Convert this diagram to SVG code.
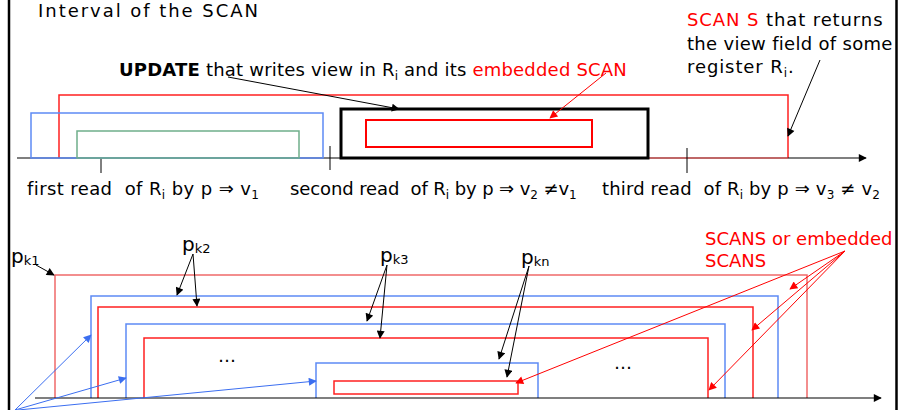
<svg xmlns="http://www.w3.org/2000/svg" width="899" height="410" viewBox="0 0 899 410">
<defs>
<style>
.t{font-family:"DejaVu Sans","Liberation Sans",sans-serif;font-size:18px;fill:#000;white-space:pre}
.r{fill:#ff0000}
.p{font-family:"DejaVu Sans","Liberation Sans",sans-serif;font-size:20px;fill:#000}
.ps{font-size:13px}
.red{stroke:#ff2020;stroke-width:1.5;fill:none}
.lred{stroke:#f06a6a;stroke-width:1.5;fill:none}
.blue{stroke:#5d8af5;stroke-width:1.5;fill:none}
.green{stroke:#6fae8a;stroke-width:1.5;fill:none}
.blk{stroke:#000;stroke-width:1;fill:none}
</style>
<marker id="ab" viewBox="0 0 10 10" refX="9" refY="5" markerWidth="10" markerHeight="8" markerUnits="userSpaceOnUse" orient="auto"><path d="M0,0L10,5L0,10z" fill="#000"/></marker>
<marker id="ar" viewBox="0 0 10 10" refX="9" refY="5" markerWidth="10" markerHeight="8" markerUnits="userSpaceOnUse" orient="auto"><path d="M0,0L10,5L0,10z" fill="#ff0000"/></marker>
<marker id="abl" viewBox="0 0 10 10" refX="9" refY="5" markerWidth="10" markerHeight="8" markerUnits="userSpaceOnUse" orient="auto"><path d="M0,0L10,5L0,10z" fill="#3b6ef0"/></marker>
</defs>
<rect width="899" height="410" fill="#fff"/>
<g id="frame">
<line x1="9" y1="0" x2="9" y2="410" stroke="#000" stroke-width="2.5"/>
<line x1="896.5" y1="0" x2="896.5" y2="410" stroke="#000" stroke-width="2.5"/>
</g>
<g id="title"><text class="t" x="38" y="17" font-size="16" textLength="220">Interval of the SCAN</text></g>

<g id="top-scan-S"><path class="red" d="M59,158V95H788V158"/></g>
<g id="top-axis"><line x1="17" y1="158" x2="866" y2="158" stroke="#000" stroke-width="1.2" marker-end="url(#ab)"/>
<line x1="648" y1="158" x2="788" y2="158" stroke="#ff5050" stroke-width="1.2"/>
<line x1="101" y1="158" x2="101" y2="173" class="blk"/>
<line x1="330" y1="146" x2="330" y2="170" class="blk"/>
<line x1="687" y1="148" x2="687" y2="173" class="blk"/>
</g>
<g id="blue-box"><rect class="blue" x="31" y="113" width="292" height="45"/></g>
<g id="green-box"><rect class="green" x="77" y="131" width="222" height="27"/></g>
<g id="update-box"><rect x="341" y="109" width="307" height="49" fill="none" stroke="#000" stroke-width="3"/></g>
<g id="embedded-scan"><rect x="366" y="120" width="226" height="27" fill="none" stroke="#ff0000" stroke-width="2"/></g>

<g id="top-labels">
<text class="t" x="119" y="76" letter-spacing="0.2"><tspan font-weight="bold">UPDATE</tspan> that writes view in R<tspan dy="4" font-size="12">i</tspan><tspan dy="-4"> and its </tspan><tspan class="r">embedded SCAN</tspan></text>
<text class="t" x="687" y="26" letter-spacing="0.9"><tspan class="r">SCAN S</tspan> that returns</text>
<text class="t" x="687" y="50" letter-spacing="0.3">the view field of some</text>
<text class="t" x="687" y="73" letter-spacing="0.9">register R<tspan dy="4" font-size="12">i</tspan><tspan dy="-4">.</tspan></text>
<text class="t" x="27" y="195" letter-spacing="0.4">first read  of R<tspan dy="4" font-size="12">i</tspan><tspan dy="-4"> by p ⇒ v</tspan><tspan dy="4" font-size="12">1</tspan></text>
<text class="t" x="290" y="195" letter-spacing="-0.1">second read  of R<tspan dy="4" font-size="12">i</tspan><tspan dy="-4"> by p ⇒ v</tspan><tspan dy="4" font-size="12">2</tspan><tspan dy="-4"> ≠v</tspan><tspan dy="4" font-size="12">1</tspan></text>
<text class="t" x="602" y="195" letter-spacing="0.15">third read  of R<tspan dy="4" font-size="12">i</tspan><tspan dy="-4"> by p ⇒ v</tspan><tspan dy="4" font-size="12">3</tspan><tspan dy="-4"> ≠ v</tspan><tspan dy="4" font-size="12">2</tspan></text>
</g>

<g id="bottom-boxes">
<path class="lred" d="M55,398V275H807V398"/>
<path class="blue" d="M91,398V296H778V398"/>
<path class="red" d="M98,398V307H753V398"/>
<path class="blue" d="M126,398V324H725V398"/>
<path class="red" d="M144,398V338H708V398"/>
<path class="blue" d="M316,398V363H538V398"/>
<rect class="red" x="334" y="381" width="184" height="13"/>
</g>
<g id="bottom-axis"><line x1="35" y1="398" x2="881" y2="398" stroke="#000" stroke-width="1.2" marker-end="url(#ab)"/></g>

<g id="bottom-labels">
<text class="p" x="11" y="263">p<tspan class="ps" dy="2">k1</tspan></text>
<text class="p" x="182" y="251">p<tspan class="ps" dy="2">k2</tspan></text>
<text class="p" x="380" y="262">p<tspan class="ps" dy="2">k3</tspan></text>
<text class="p" x="521" y="264">p<tspan class="ps" dy="2">kn</tspan></text>
<text class="t" x="218" y="362">…</text>
<text class="t" x="614" y="369">…</text>
<text class="t r" x="705" y="245">SCANS or embedded</text>
<text class="t r" x="705" y="267">SCANS</text>
</g>

<g id="connectors">
<line x1="228" y1="77" x2="399" y2="109" class="blk" stroke-width="1.2" marker-end="url(#ab)"/>
<line x1="606" y1="73" x2="550" y2="118" stroke="#ff0000" stroke-width="1" marker-end="url(#ar)"/>
<line x1="820" y1="60" x2="788" y2="136" class="blk" marker-end="url(#ab)"/>
<line x1="36" y1="265" x2="54" y2="275" class="blk" marker-end="url(#ab)"/>
<line x1="193" y1="254" x2="177" y2="295" class="blk" marker-end="url(#ab)"/>
<line x1="193" y1="254" x2="197" y2="306" class="blk" marker-end="url(#ab)"/>
<line x1="387" y1="265" x2="367" y2="321" class="blk" marker-end="url(#ab)"/>
<line x1="387" y1="265" x2="380" y2="338" class="blk" marker-end="url(#ab)"/>
<line x1="529" y1="266" x2="499" y2="359" class="blk" marker-end="url(#ab)"/>
<line x1="529" y1="266" x2="507" y2="377" class="blk" marker-end="url(#ab)"/>
<line x1="845" y1="251" x2="790" y2="289" stroke="#ff0000" stroke-width="1" marker-end="url(#ar)"/>
<line x1="845" y1="251" x2="752" y2="330" stroke="#ff0000" stroke-width="1" marker-end="url(#ar)"/>
<line x1="845" y1="251" x2="709" y2="390" stroke="#ff0000" stroke-width="1" marker-end="url(#ar)"/>
<line x1="845" y1="251" x2="516" y2="383" stroke="#ff0000" stroke-width="1" marker-end="url(#ar)"/>
<line x1="15" y1="410" x2="91" y2="335" stroke="#3b6ef0" stroke-width="1" marker-end="url(#abl)"/>
<line x1="15" y1="410" x2="126" y2="378" stroke="#3b6ef0" stroke-width="1" marker-end="url(#abl)"/>
<line x1="18" y1="410" x2="316" y2="381" stroke="#3b6ef0" stroke-width="1" marker-end="url(#abl)"/>
</g>
</svg>
